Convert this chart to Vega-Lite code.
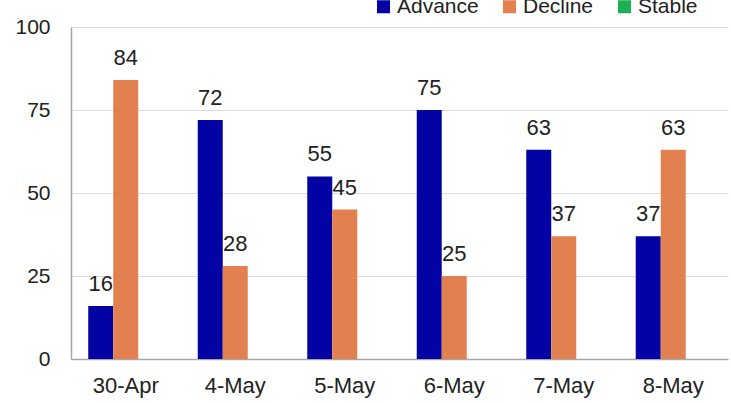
{
  "$schema": "https://vega.github.io/schema/vega-lite/v6.json",
  "width": 657,
  "height": 332,
  "autosize": "none",
  "padding": {"left": 71, "top": 27, "right": 3, "bottom": 44},
  "background": "white",
  "config": {
    "view": {"stroke": null},
    "font": "Liberation Sans",
    "text": {"font": "Liberation Sans"}
  },
  "data": {
    "values": [
      {"date": "30-Apr", "series": "Advance", "value": 16},
      {"date": "30-Apr", "series": "Decline", "value": 84},
      {"date": "30-Apr", "series": "Stable", "value": 0},
      {"date": "4-May", "series": "Advance", "value": 72},
      {"date": "4-May", "series": "Decline", "value": 28},
      {"date": "4-May", "series": "Stable", "value": 0},
      {"date": "5-May", "series": "Advance", "value": 55},
      {"date": "5-May", "series": "Decline", "value": 45},
      {"date": "5-May", "series": "Stable", "value": 0},
      {"date": "6-May", "series": "Advance", "value": 75},
      {"date": "6-May", "series": "Decline", "value": 25},
      {"date": "6-May", "series": "Stable", "value": 0},
      {"date": "7-May", "series": "Advance", "value": 63},
      {"date": "7-May", "series": "Decline", "value": 37},
      {"date": "7-May", "series": "Stable", "value": 0},
      {"date": "8-May", "series": "Advance", "value": 37},
      {"date": "8-May", "series": "Decline", "value": 63},
      {"date": "8-May", "series": "Stable", "value": 0}
    ]
  },
  "encoding": {
    "x": {
      "field": "date",
      "type": "nominal",
      "sort": null,
      "scale": {"paddingInner": 0.315, "paddingOuter": 0.1575},
      "axis": {
        "title": null,
        "labelAngle": 0,
        "labelFontSize": 22,
        "labelColor": "#222222",
        "labelPadding": 16,
        "ticks": false,
        "domainColor": "#a6a6a6",
        "domainWidth": 1.5
      }
    },
    "xOffset": {
      "field": "series",
      "type": "nominal",
      "sort": ["Advance", "Decline", "Stable"],
      "scale": {"paddingInner": 0, "paddingOuter": 0}
    },
    "y": {
      "field": "value",
      "type": "quantitative",
      "scale": {"domain": [0, 100], "nice": false},
      "axis": {
        "title": null,
        "values": [0, 25, 50, 75, 100],
        "labelFontSize": 21,
        "labelColor": "#222222",
        "labelPadding": 21,
        "ticks": false,
        "gridColor": "#dcdcdc",
        "gridWidth": 1,
        "domainColor": "#a6a6a6",
        "domainWidth": 1.5
      }
    }
  },
  "layer": [
    {
      "mark": {"type": "bar"},
      "encoding": {
        "color": {
          "field": "series",
          "type": "nominal",
          "scale": {
            "domain": ["Advance", "Decline", "Stable"],
            "range": ["#0303A3", "#E2814F", "#1DAF52"]
          },
          "legend": {
            "title": null,
            "orient": "none",
            "direction": "horizontal",
            "legendX": 302,
            "legendY": -31,
            "symbolType": "square",
            "symbolSize": 169,
            "symbolStrokeWidth": 0,
            "labelFontSize": 21,
            "labelColor": "#222222",
            "labelOffset": 3,
            "columnPadding": 20
          }
        }
      }
    },
    {
      "transform": [{"filter": "datum.series !== 'Stable'"}],
      "mark": {
        "type": "text",
        "fontSize": 22,
        "color": "#222222",
        "baseline": "alphabetic",
        "dy": -15
      },
      "encoding": {
        "text": {"field": "value", "type": "quantitative"}
      }
    }
  ]
}
